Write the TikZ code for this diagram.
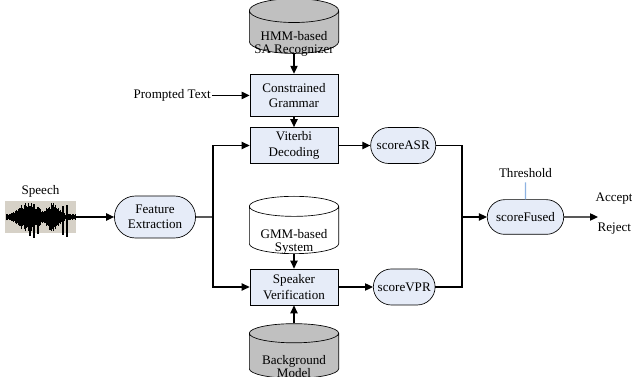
\documentclass[tikz,border=0pt]{standalone}
\usepackage{fontspec}
\setmainfont{Liberation Serif}
\usepackage{tikz}
\definecolor{boxfill}{RGB}{230,236,248}
\definecolor{dbgray}{RGB}{192,192,192}
\definecolor{wavebg}{RGB}{214,209,199}
\definecolor{thrline}{RGB}{141,179,226}
\usetikzlibrary{positioning, shapes, arrows.meta, calc}
% two-line text sitting low in a database drum
\newcommand{\dblabel}[1]{\raisebox{-17pt}{\fontsize{9.8}{9.8}\selectfont\begin{tabular}[b]{@{}c@{}}#1\end{tabular}}}

\begin{document}
\begin{tikzpicture}[x=0.75pt, y=-0.75pt,
                    every node/.style = {font=\fontsize{9.8}{11.5}\selectfont, text=black, align=center},
                    wire/.style = {draw, line width=0.9pt},
                    flow/.style = {wire, -{Triangle[length=6pt,width=5.5pt]}},
                    every edge/.style = {flow},
                    block/.style = {draw, line width=0.5pt, fill=boxfill, minimum width=66pt},
                    pill/.style = {draw, line width=0.5pt, fill=boxfill, rounded rectangle},
                    store/.style = {draw, line width=0.5pt, cylinder, shape border rotate=90,
                                    aspect=0.3, inner sep=0pt, text height=6pt, text depth=8pt,
                                    minimum width=67pt}]
                \useasboundingbox (0,0) rectangle (632,377);
                % input side
                \node (speech) [fill=wavebg, minimum width=53pt, minimum height=24pt, inner sep=0pt] at (40.5,217) {};
                \node (speechlbl) [above = -1pt of speech] {Speech};
                \node (feat) [pill, minimum width=67.5pt, minimum height=31.5pt] at (155,217) {Feature\\Extraction};
                % recognizer branch
                \node (viterbi) [block, minimum height=26pt] at (294,145.5) {Viterbi\\Decoding};
                \node (grammar) [block, minimum height=32pt, above = 7.5pt of viterbi] {Constrained\\Grammar};
                \node (hmm) [store, fill=dbgray, minimum height=36pt, above = 15pt of grammar] {\dblabel{HMM-based\\SA Recognizer}};
                \node (prompt) [left = 28pt of grammar, inner sep=1pt] {Prompted Text};
                % verification branch
                \node (verify) [block, minimum height=27pt] at (294,287) {Speaker\\Verification};
                \node (gmm) [store, fill=white, minimum height=43pt, above = 11pt of verify] {\dblabel{GMM-based\\System}};
                \node (bgm) [store, fill=dbgray, minimum height=41pt, below = 13.5pt of verify] {\dblabel{Background\\Model}};
                % scores and decision
                \node (asr) [pill, minimum width=55.5pt, minimum height=27pt, right = 24pt of viterbi] {scoreASR};
                \node (vpr) [pill, minimum width=53pt, minimum height=27pt, right = 26pt of verify] {scoreVPR};
                \node (fused) [pill, minimum width=64pt, minimum height=26pt] at (525.5,217) {scoreFused};
                \node (thr) at (525.5,173) {Threshold};
                \node (accept) [anchor=west, inner sep=1pt] at (594,199) {Accept};
                \node (reject) [anchor=west, inner sep=1pt] at (596,229) {Reject};
                \coordinate (fork) at (213,217);
                \coordinate (join) at (462,217);
                \coordinate (out) at (598,217);
                % waveform
                \pgfmathsetseed{11}
                \foreach \i in {0,...,116} {
                    \pgfmathsetmacro{\t}{\i/116}
                    \pgfmathsetmacro{\h}{(3+14*exp(-((\t-0.33)/0.17)*((\t-0.33)/0.17))+12*exp(-((\t-0.68)/0.1)*((\t-0.68)/0.1)))*(0.55+0.45*rnd)}
                    \draw[line width=0.6pt] ($(speech.west)+(\i*0.6+1,\h)$) -- ($(speech.west)+(\i*0.6+1,-\h)$);
                }
                \foreach \x/\h in {25/19, 29/21, 33/17, 45/13, 58/18, 62/20}
                    \draw[line width=0.9pt] ($(speech.west)+(\x,\h)$) -- ($(speech.west)+(\x,-\h*0.6)$);
                \draw (speech) edge (feat);
                \draw[wire] (feat) -- (fork);
                \draw[flow] (fork) |- (viterbi);
                \draw[flow] (fork) |- (verify);
                \draw (prompt) edge (grammar);
                \draw (hmm) edge (grammar);
                \draw (grammar) edge (viterbi);
                \draw (gmm) edge (verify);
                \draw (bgm) edge (verify);
                \draw (viterbi) edge (asr);
                \draw (verify) edge (vpr);
                \draw[wire] (asr) -| (join) |- (vpr);
                \draw (join) edge (fused);
                \draw[thrline, line width=0.8pt] (thr) -- (fused);
                \draw (fused) edge (out);
            \end{tikzpicture}
\end{document}
